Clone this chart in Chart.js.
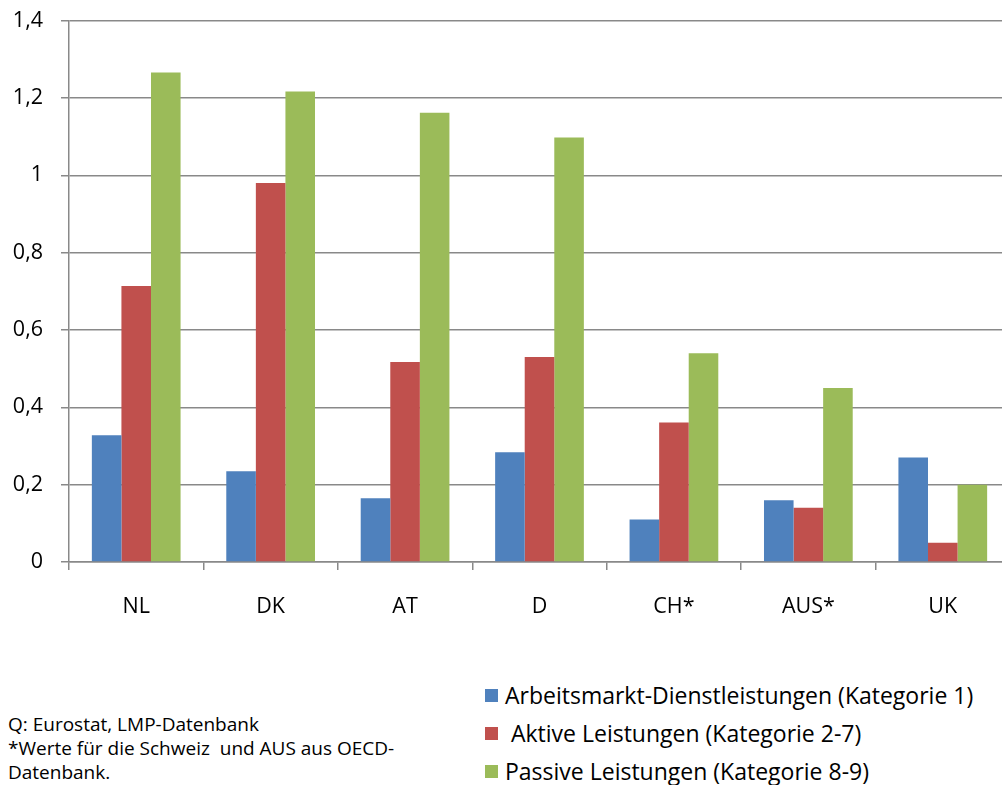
<!DOCTYPE html>
<html lang="de">
<head>
<meta charset="utf-8">
<title>Ausgaben für Arbeitsmarktpolitik</title>
<script src="https://cdn.jsdelivr.net/npm/chart.js@4/dist/chart.umd.min.js"></script>
<style>
  html, body { margin: 0; padding: 0; background: #fff; overflow: hidden; width: 1002px; height: 785px; }
  #wrap { position: relative; width: 1002px; height: 785px; overflow: hidden; font-family: "Open Sans", sans-serif; color: #000; }
  #chart { position: absolute; left: 0; top: 0; }
  #legend { position: absolute; left: 485px; top: 0; }
  .item { position: absolute; left: 0; height: 30px; display: flex; align-items: center; white-space: pre; font-size: 23px; }
  .swatch { width: 13px; height: 13px; margin-right: 7px; flex: none; }
  #note { position: absolute; left: 8px; top: 712px; font-size: 19px; line-height: 24px; }
</style>
</head>
<body>
<div id="wrap">
  <canvas id="chart" width="1012" height="640"></canvas>
  <div id="legend"></div>
  <div id="note">Q: Eurostat, LMP-Datenbank<br>*Werte für die Schweiz&nbsp; und AUS aus OECD-<br>Datenbank.</div>
</div>
<script>
// Länder
const countries = ['NL', 'DK', 'AT', 'D', 'CH*', 'AUS*', 'UK'];

// Ausgaben je Kategorie
const dienstleistungen = [0.328, 0.235, 0.165, 0.284, 0.110, 0.160, 0.270];
const aktive           = [0.714, 0.980, 0.517, 0.530, 0.361, 0.140, 0.050];
const passive          = [1.266, 1.217, 1.162, 1.098, 0.540, 0.450, 0.200];

const seriesNames = [
  'Arbeitsmarkt-Dienstleistungen (Kategorie 1)',
  ' Aktive Leistungen (Kategorie 2-7)',
  'Passive Leistungen (Kategorie 8-9)'
];
const seriesColors = ['#4F81BD', '#C0504D', '#9BBB59'];

// Beschriftung der Werteachse
const yTickLabels = ['0', '0,2', '0,4', '0,6', '0,8', '1', '1,2', '1,4'];

const axisGray = '#898989';
const FONT = '"Open Sans", sans-serif';
const CANVAS_H = 640;
const PLOT_BOTTOM = 562;
const PLOT_LEFT = 69;

const datasets = [dienstleistungen, aktive, passive].map((values, i) => ({
  label: seriesNames[i],
  data: values,
  backgroundColor: seriesColors[i],
  borderWidth: 0,
  categoryPercentage: 0.66,
  barPercentage: 1.0
}));

new Chart(document.getElementById('chart'), {
  type: 'bar',
  data: { labels: countries, datasets },
  options: {
    responsive: false,
    animation: false,
    events: [],
    layout: { padding: { top: 20.7, right: 2, left: 0, bottom: 0 } },
    plugins: {
      legend: { display: false },
      tooltip: { enabled: false }
    },
    scales: {
      x: {
        offset: true,
        grid: {
          offset: true,
          drawOnChartArea: false,
          drawTicks: true,
          tickLength: 8,
          color: axisGray,
          lineWidth: 1.5
        },
        border: { display: true, color: axisGray, width: 1.5 },
        ticks: {
          color: '#000',
          padding: 24,
          font: { family: FONT, size: 21.5 },
          maxRotation: 0,
          autoSkip: false
        },
        afterFit: (scale) => {
          scale.height = CANVAS_H - PLOT_BOTTOM;
          scale.paddingLeft = 0;
          scale.paddingRight = 0;
        }
      },
      y: {
        min: 0,
        max: 1.4,
        grid: {
          color: axisGray,
          lineWidth: 1.5,
          drawTicks: true,
          tickLength: 8
        },
        border: { display: true, color: axisGray, width: 1.5 },
        ticks: {
          stepSize: 0.2,
          color: '#000',
          padding: 18,
          font: { family: FONT, size: 21.5 },
          callback: (value, index) => yTickLabels[index]
        },
        afterFit: (scale) => {
          scale.width = PLOT_LEFT;
          scale.paddingTop = 0;
          scale.paddingBottom = 0;
        }
      }
    }
  }
});

// Legende aus den Datenreihen
const legend = document.getElementById('legend');
const rowCenters = [695, 733, 771];
datasets.forEach((ds, i) => {
  const item = document.createElement('div');
  item.className = 'item';
  item.style.top = (rowCenters[i] - 15) + 'px';
  const sw = document.createElement('span');
  sw.className = 'swatch';
  sw.style.background = ds.backgroundColor;
  const txt = document.createElement('span');
  txt.textContent = ds.label;
  item.appendChild(sw);
  item.appendChild(txt);
  legend.appendChild(item);
});
</script>
</body>
</html>
